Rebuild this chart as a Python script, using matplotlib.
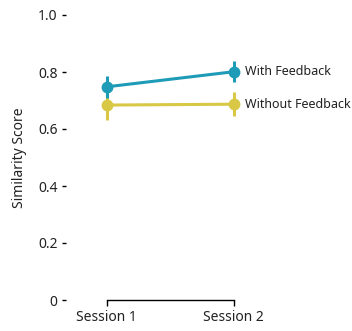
import matplotlib
matplotlib.use("Agg")
import matplotlib.pyplot as plt

plt.rcParams['font.family'] = ['Noto Sans', 'DejaVu Sans']

sessions = ["Session 1", "Session 2"]
series_names = ["With Feedback", "Without Feedback"]
with_fb = [0.748, 0.801]
with_fb_err = [0.038, 0.037]
without_fb = [0.684, 0.687]
without_fb_err = [0.053, 0.043]
colors = ["#1d9bb7", "#d8c845"]

yticks = [0, 0.2, 0.4, 0.6, 0.8, 1.0]
yticklabels = ["0", "0.2", "0.4", "0.6", "0.8", "1.0"]

fig = plt.figure(figsize=(3.52, 3.31), dpi=100)
ax = fig.add_axes([66 / 352, 31 / 331, (272 - 66) / 352, 285 / 331])

x = list(range(len(sessions)))
for vals, errs, col, name in [(without_fb, without_fb_err, colors[1], series_names[1]),
                              (with_fb, with_fb_err, colors[0], series_names[0])]:
    ax.errorbar(x, vals, yerr=errs, color=col, lw=2.2, elinewidth=2.2,
                marker="o", ms=7.5, capsize=0, zorder=3)
    ax.text(x[-1] + 0.09, vals[-1], name, color="#222222", fontsize=9,
            va="center", ha="left", clip_on=False)

ax.set_xlim(-0.32, 1.3)
ax.set_ylim(0, 1.0)
ax.set_xticks(x)
ax.set_xticklabels(sessions, fontsize=10, color="#222222")
ax.set_yticks(yticks)
ax.set_yticklabels(yticklabels, fontsize=10, color="#222222")
ax.set_ylabel("Similarity Score", fontsize=10, color="#222222", labelpad=8)

for s in ["top", "right", "left"]:
    ax.spines[s].set_visible(False)
ax.spines["bottom"].set_bounds(0, 1)
ax.spines["bottom"].set_linewidth(1.0)
ax.tick_params(axis="x", length=4, width=1.0, pad=3)
ax.tick_params(axis="y", length=3, width=1.0, pad=3)

fig.savefig("out.png", dpi=100)
